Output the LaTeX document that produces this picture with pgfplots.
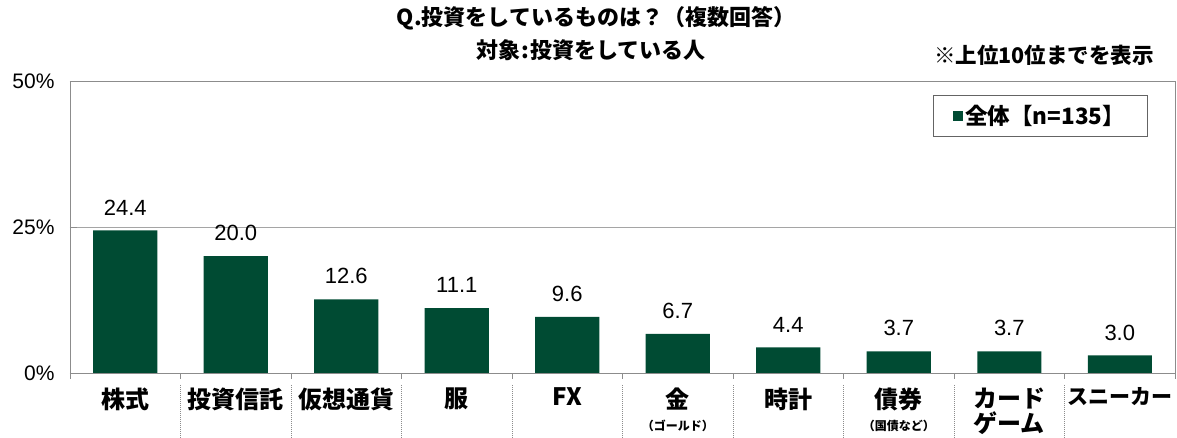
\documentclass[border=0pt]{standalone}
\usepackage{pgfplots}
\pgfplotsset{compat=1.18}
\usepackage{fontspec}
\setmainfont{Liberation Sans}
\newfontfamily\jp{Noto Sans CJK JP}
\definecolor{barcol}{RGB}{0,75,51}
\definecolor{axgray}{RGB}{140,140,140}
\definecolor{grgray}{RGB}{165,165,165}
\begin{document}
\begin{tikzpicture}
\useasboundingbox (0,0) rectangle (1177pt,438pt);
\begin{axis}[
  at={(70pt,65pt)}, anchor=south west,
  scale only axis, width=1105pt, height=292pt,
  xmin=-0.5, xmax=9.5, ymin=0, ymax=50,
  ybar, bar width=0.58,
  axis line style={axgray, line width=0.8pt},
  xtick={0,...,9},
  xticklabels={株式,投資信託,仮想通貨,服,FX,
    {金\\[-4pt]{\fontsize{12}{14}\selectfont （ゴールド）}},
    時計,
    {債券\\[-4pt]{\fontsize{12}{14}\selectfont （国債など）}},
    {カード\\[-1pt]ゲーム},
    {\fontsize{21}{24}\selectfont スニーカー}},
  major x tick style={draw=none},
  minor xtick={-0.5,0.5,...,9.5},
  minor x tick style={axgray, line width=0.8pt},
  minor tick length=6pt,
  xtick pos=bottom, ytick pos=left,
  xtick align=outside,
  ytick align=inside,
  major tick length=7pt,
  xticklabel style={font=\jp\bfseries\fontsize{24}{26}\selectfont, align=center, anchor=north, yshift=-4pt},
  ytick={0,25,50},
  y tick style={axgray, line width=0.8pt},
  yticklabel={\pgfmathprintnumber{\tick}\%},
  yticklabel style={font=\fontsize{21}{24}\selectfont, xshift=-12pt},
  ymajorgrids, grid style={grgray, line width=0.8pt},
  /pgf/number format/assume math mode=true,
  nodes near coords,
  nodes near coords style={font=\fontsize{22}{26}\selectfont, anchor=south, inner sep=0pt, yshift=15pt,
    /pgf/number format/.cd, fixed, fixed zerofill, precision=1},
  legend style={at={(0.878,0.880)}, anchor=center, draw={rgb,255:red,100;green,100;blue,100}, line width=0.8pt,
    font=\jp\bfseries\fontsize{22.5}{25}\selectfont, inner xsep=20pt, inner ysep=8pt},
  legend image code/.code={\fill[barcol] (2pt,-5pt) rectangle (12pt,5pt);},
  clip=false,
]
\addplot[fill=barcol, draw=none] coordinates {
  (0,24.4) (1,20.0) (2,12.6) (3,11.1) (4,9.6)
  (5,6.7) (6,4.4) (7,3.7) (8,3.7) (9,3.0)};
\addlegendentry{全体【n=135】}
\end{axis}
\foreach \i in {1,...,9} {
  \pgfmathsetmacro{\xx}{70+110.5*\i}
  \draw[axgray, densely dotted, line width=1pt] (\xx pt,53pt) -- (\xx pt,0pt);
}
\node[font=\jp\bfseries\fontsize{22}{24}\selectfont] at (596pt,420pt) {Q.投資をしているものは？（複数回答）};
\node[font=\jp\bfseries\fontsize{22}{24}\selectfont] at (591pt,388pt) {対象\hspace{1pt}:\hspace{1pt}投資をしている人};
\node[font=\jp\bfseries\fontsize{21.5}{24}\selectfont] at (1044pt,383pt) {※上位10位までを表示};
\end{tikzpicture}
\end{document}
